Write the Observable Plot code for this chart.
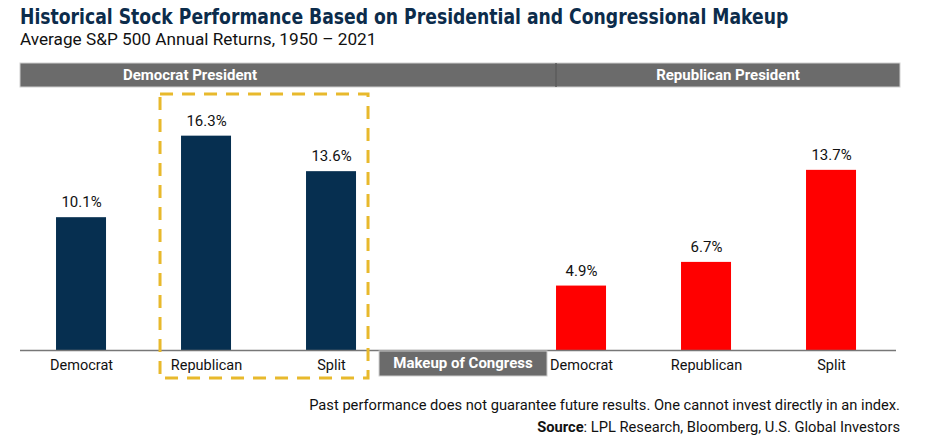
<!DOCTYPE html>
<html><head><meta charset="utf-8">
<script src="https://cdn.jsdelivr.net/npm/d3@7"></script>
<script src="https://cdn.jsdelivr.net/npm/@observablehq/plot@0.6"></script>
<style>
body{margin:0;background:#fff;width:936px;height:447px;position:relative;overflow:hidden;font-family:Roboto,"Liberation Sans",sans-serif}
#title{position:absolute;left:20px;top:4px;font-weight:bold;font-size:21.5px;font-family:"DejaVu Sans Condensed","Liberation Sans Narrow",Roboto,sans-serif;color:#0c2c4b;white-space:nowrap;transform:scaleX(0.89);transform-origin:0 0}
#subtitle{position:absolute;left:20px;top:29px;font-size:17.2px;color:#111;white-space:nowrap}
#chart{position:absolute;left:0;top:56px}
#note{position:absolute;right:36px;top:394px;font-size:14.7px;color:#111;text-align:right;line-height:22px;white-space:nowrap}
</style></head>
<body>
<div id="title">Historical Stock Performance Based on Presidential and Congressional Makeup</div>
<div id="subtitle">Average S&amp;P 500 Annual Returns, 1950 – 2021</div>
<div id="chart"></div>
<div id="note">Past performance does not guarantee future results. One cannot invest directly in an index.<br><b>Source</b>: LPL Research, Bloomberg, U.S. Global Investors</div>
<script>
const presidents = ["Democrat President", "Republican President"];
const congress = ["Democrat", "Republican", "Split"];
const demReturns = [10.1, 16.3, 13.6];
const repReturns = [4.9, 6.7, 13.7];
const gapLabel = "Makeup of Congress";

const navy = "#062f50", red = "#ff0000", grey = "#6b6b6b", gold = "#e8b92c";

const rows = [
  ...congress.map((c, i) => ({key: "D|" + c, party: "D", congress: c, value: demReturns[i]})),
  ...congress.map((c, i) => ({key: "R|" + c, party: "R", congress: c, value: repReturns[i]}))
];
const keys = [...congress.map(c => "D|" + c), "gap", ...congress.map(c => "R|" + c)];

function bwOf(sx) { return sx.bandwidth ? sx.bandwidth() : 50; }

function header(index, scales, values, dim) {
  const sx = scales.x, bw = bwOf(sx);
  const g = d3.create("svg:g");
  const top = dim.marginTop - 24, h = 24;
  const left = dim.marginLeft, right = dim.width - 36;
  const divX = sx("R|Democrat");
  g.append("rect").attr("x", left).attr("y", top).attr("width", right - left).attr("height", h)
    .attr("fill", grey).attr("stroke", "#d0d0d0").attr("stroke-width", 1);
  g.append("line").attr("x1", divX).attr("x2", divX).attr("y1", top).attr("y2", top + h)
    .attr("stroke", "#5c5c5c").attr("stroke-width", 1.5);
  const cy = top + h / 2;
  const lx = [sx("D|Republican") + bw / 2 - 16, (divX + right) / 2];
  presidents.forEach((p, i) => {
    g.append("text").attr("x", lx[i]).attr("y", cy).attr("dy", "0.35em")
      .attr("text-anchor", "middle").attr("fill", "#fff").attr("font-weight", "bold")
      .attr("font-size", 15).text(p);
  });
  return g.node();
}

function decorations(index, scales, values, dim) {
  const sx = scales.x, sy = scales.y, bw = bwOf(sx);
  const g = d3.create("svg:g");
  const base = sy(0);
  // Makeup of Congress box
  const cx = sx("gap") + bw / 2 + 7;
  g.append("rect").attr("x", cx - 84).attr("y", base + 1).attr("width", 168).attr("height", 25)
    .attr("fill", grey).attr("stroke", "#cfcfcf").attr("stroke-width", 1);
  g.append("text").attr("x", cx).attr("y", base + 13).attr("dy", "0.35em")
    .attr("text-anchor", "middle").attr("fill", "#fff").attr("font-weight", "bold")
    .attr("font-size", 15).text(gapLabel);
  // dashed highlight box
  const x1 = sx("D|Republican") - 21, x2 = sx("D|Split") + bw + 12;
  const y1 = dim.marginTop + 7, y2 = base + 28;
  g.append("rect").attr("x", x1).attr("y", y1).attr("width", x2 - x1).attr("height", y2 - y1)
    .attr("fill", "none").attr("stroke", gold).attr("stroke-width", 3)
    .attr("stroke-dasharray", "13,9");
  return g.node();
}

const chart = Plot.plot({
  width: 936,
  height: 336,
  marginTop: 31,
  marginBottom: 42,
  marginLeft: 20,
  marginRight: 40,
  style: {fontFamily: "Roboto, 'Liberation Sans', sans-serif", background: "#fff", color: "#111"},
  x: {domain: keys, paddingInner: 0.6, paddingOuter: 0.304, align: 0.474, round: false, axis: null},
  y: {domain: [0, 20], axis: null},
  color: {domain: ["D", "R"], range: [navy, red]},
  marks: [
    header,
    Plot.barY(rows, {x: "key", y: "value", fill: "party"}),
    Plot.ruleY([0], {stroke: "#777", strokeWidth: 1.5}),
    Plot.text(rows, {x: "key", y: "value", text: d => d.value.toFixed(1) + "%", dy: -15, lineAnchor: "middle", fontSize: 15, fill: "#111"}),
    Plot.text(rows, {x: "key", y: 0, text: "congress", dy: 15, lineAnchor: "middle", fontSize: 14.5, fill: "#111"}),
    decorations
  ]
});
document.getElementById("chart").appendChild(chart);
</script>
</body></html>
